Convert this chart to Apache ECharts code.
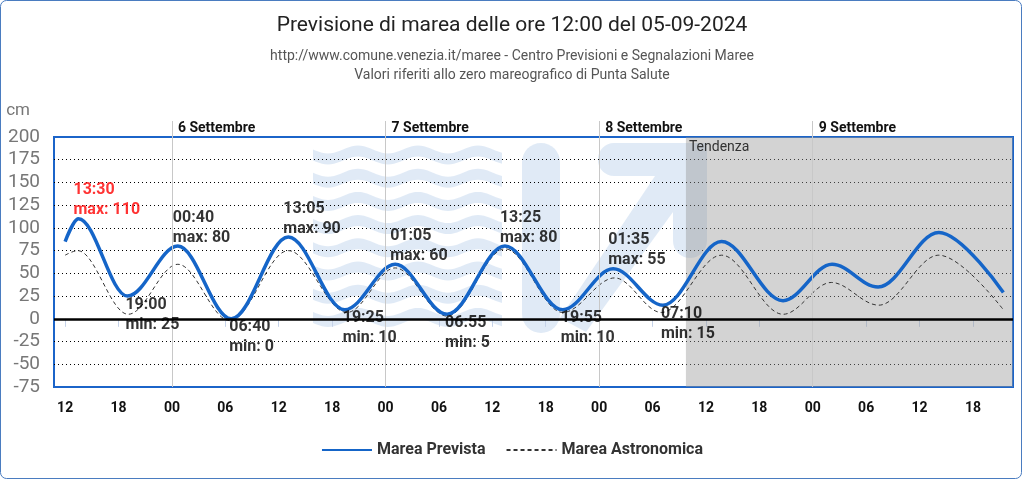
<!DOCTYPE html>
<html>
<head>
<meta charset="utf-8">
<title>Previsione di marea</title>
<script src="https://cdn.jsdelivr.net/npm/echarts@6/dist/echarts.min.js"></script>
<style>
  html, body { margin: 0; padding: 0; background: #fff; }
  #chart { width: 1024px; height: 480px; }
</style>
</head>
<body>
<div id="chart"></div>
<script>
// giorno ore:minuti (settembre 2024)
const previstaOre = ['05 12:00', '05 13:30', '05 19:00', '06 00:40', '06 06:40', '06 13:05', '06 19:25',
  '07 01:05', '07 06:55', '07 13:25', '07 19:55', '08 01:35', '08 07:10', '08 13:45', '08 20:40',
  '09 02:10', '09 07:20', '09 14:10', '09 21:25']
const previstaCm = [85, 110, 25, 80, 0, 90, 10, 60, 5, 80, 10, 55, 15, 85, 20, 60, 35, 95, 29]

const astronomicaOre = ['05 12:00', '05 13:25', '05 19:05', '06 00:40', '06 06:30', '06 13:05', '06 19:40',
  '07 01:05', '07 06:55', '07 13:25', '07 19:55', '08 01:45', '08 07:00', '08 13:45', '08 20:40',
  '09 02:05', '09 07:25', '09 14:10', '09 21:25']
const astronomicaCm = [70, 75, 5, 60, -2, 75, 7, 56, 3, 77, 7, 45, 7, 70, 5, 40, 15, 70, 10]

// massimi e minimi segnalati
const estremiOre = ['05 13:30', '05 19:00', '06 00:40', '06 06:40', '06 13:05', '06 19:25',
  '07 01:05', '07 06:55', '07 13:25', '07 19:55', '08 01:35', '08 07:10']
const estremiCm = [110, 25, 80, 0, 90, 10, 60, 5, 80, 10, 55, 15]
const estremiTipo = ['max', 'min', 'max', 'min', 'max', 'min', 'max', 'min', 'max', 'min', 'max', 'min']

const tickOre = [12, 18, 24, 30, 36, 42, 48, 54, 60, 66, 72, 78, 84, 90, 96, 102, 108, 114]
const giorniOre = [24, 48, 72, 96]
const giorniLabel = ['6 Settembre', '7 Settembre', '8 Settembre', '9 Settembre']
const tendenzaDa = '08 09:45'

const xMin = 10.75
const xMax = 118.5

function ore (s) {
  const d = +s.slice(0, 2)
  const hh = +s.slice(3, 5)
  const mm = +s.slice(6, 8)
  return (d - 5) * 24 + hh + mm / 60
}
function pad (n) {
  return (n < 10 ? '0' : '') + n
}

const font = 'Roboto, "Noto Sans", sans-serif'
const logoColor = 'rgba(70,130,200,0.17)'

// onde del logo sullo sfondo
function onda (yc) {
  const pts = []
  for (let x = 313; x <= 502; x += 3) {
    pts.push([x, yc - 5.5 + 4 * Math.sin((x - 313) / 60 * 2 * Math.PI)])
  }
  for (let x = 502; x >= 313; x -= 3) {
    pts.push([x, yc + 5.5 + 4 * Math.sin((x - 313) / 60 * 2 * Math.PI)])
  }
  return pts
}
const logo = []
for (let k = 0; k < 8; k++) {
  logo.push({ type: 'polygon', silent: true, z: -10, shape: { points: onda(155 + 23.2 * k) }, style: { fill: logoColor } })
}
logo.push({ type: 'rect', silent: true, z: -10, shape: { x: 522, y: 143, width: 38, height: 190, r: 19 }, style: { fill: logoColor } })
logo.push({ type: 'rect', silent: true, z: -10, shape: { x: 598, y: 143, width: 109, height: 33, r: [16, 0, 0, 16] }, style: { fill: logoColor } })
logo.push({ type: 'rect', silent: true, z: -10, shape: { x: 673, y: 176, width: 34, height: 82, r: [0, 0, 17, 17] }, style: { fill: logoColor } })
logo.push({ type: 'polygon', silent: true, z: -10, shape: { points: [[560, 318], [586, 332], [673, 212], [673, 176], [655, 176]] }, style: { fill: logoColor } })

const chart = echarts.init(document.getElementById('chart'))

const previsteData = previstaOre.map((s, i) => [ore(s), previstaCm[i]])
const astronomicaData = astronomicaOre.map((s, i) => [ore(s), astronomicaCm[i]])
const estremiData = estremiOre.map((s, i) => {
  const isMax = estremiTipo[i] === 'max'
  return {
    value: [ore(s), estremiCm[i]],
    label: {
      formatter: s.slice(3) + '\n' + estremiTipo[i] + ': ' + estremiCm[i],
      position: isMax ? 'top' : 'bottom',
      distance: 0,
      offset: isMax ? [-5, 2] : [-2, -2],
      color: estremiCm[i] >= 110 ? '#ff0000' : '#000'
    }
  }
})

chart.setOption({
  animation: false,
  textStyle: { fontFamily: font },
  title: {
    left: 'center',
    top: 8,
    text: 'Previsione di marea delle ore 12:00 del 05-09-2024',
    subtext: 'http://www.comune.venezia.it/maree - Centro Previsioni e Segnalazioni Maree\nValori riferiti allo zero mareografico di Punta Salute',
    itemGap: 8,
    textStyle: { fontFamily: font, fontSize: 21, fontWeight: 'normal', color: '#222', lineHeight: 26 },
    subtextStyle: { fontFamily: font, fontSize: 14, color: '#555', lineHeight: 19, align: 'center' }
  },
  legend: {
    top: 437,
    left: 'center',
    itemWidth: 50,
    itemHeight: 14,
    itemGap: 20,
    data: ['Marea Prevista', 'Marea Astronomica'],
    itemStyle: { opacity: 0 },
    textStyle: { fontFamily: font, fontSize: 16, fontWeight: 'bold', color: '#333' }
  },
  graphic: {
    elements: logo.concat([{
      type: 'rect',
      silent: true,
      shape: { x: 0.5, y: 0.5, width: 1021, height: 478, r: 6 },
      style: { fill: 'none', stroke: '#4a7cc0', lineWidth: 1 }
    }])
  },
  grid: {
    left: 54,
    right: 11,
    top: 137,
    bottom: 93,
    show: true,
    borderColor: '#1b64c9',
    borderWidth: 2,
    backgroundColor: 'transparent'
  },
  xAxis: [
    {
      type: 'value',
      min: xMin,
      max: xMax,
      position: 'bottom',
      axisLine: { show: false },
      splitLine: { show: false },
      axisTick: { show: true, customValues: tickOre, length: 8, lineStyle: { color: '#c5d2e8' } },
      axisLabel: {
        customValues: tickOre,
        margin: 14,
        fontFamily: font,
        fontSize: 14,
        fontWeight: 'bold',
        color: '#111',
        formatter: v => pad(Math.round(v) % 24)
      }
    },
    {
      type: 'value',
      min: xMin,
      max: xMax,
      position: 'top',
      axisLine: { show: false },
      splitLine: { show: false },
      axisTick: { show: true, customValues: giorniOre, length: 16, lineStyle: { color: '#c8c8c8' } },
      axisLabel: {
        customValues: giorniOre,
        margin: 2,
        align: 'left',
        padding: [0, 0, 0, 6],
        fontFamily: font,
        fontSize: 14,
        fontWeight: 'bold',
        color: '#111',
        formatter: v => giorniLabel[giorniOre.indexOf(Math.round(v))]
      }
    }
  ],
  yAxis: {
    type: 'value',
    min: -75,
    max: 200,
    interval: 25,
    name: 'cm',
    nameGap: 18,
    nameTextStyle: { color: '#777', fontSize: 17, fontFamily: font, align: 'right', padding: [0, 24, 0, 0] },
    axisLine: { show: false },
    axisTick: { show: false },
    axisLabel: { color: '#777', fontSize: 19, margin: 14, fontFamily: font },
    splitLine: {
      show: true,
      lineStyle: {
        type: [1, 3],
        width: 1,
        color: ['rgba(0,0,0,0)', '#000', '#000', '#000', '#000', '#000', '#000', '#000', '#000', '#000', '#000', 'rgba(0,0,0,0)']
      }
    }
  },
  series: [
    {
      name: 'Marea Astronomica',
      type: 'line',
      data: astronomicaData,
      smooth: 0.35,
      smoothMonotone: 'x',
      symbol: 'none',
      z: 3,
      itemStyle: { color: '#333' },
      lineStyle: { color: '#333', width: 1, type: [4, 3] },
      markArea: {
        silent: true,
        itemStyle: { color: 'rgba(150,150,150,0.42)' },
        label: { show: true, position: 'insideTopLeft', distance: 3, color: '#333', fontSize: 14, fontFamily: font },
        data: [[{ name: 'Tendenza', xAxis: ore(tendenzaDa) }, { xAxis: xMax }]]
      },
      markLine: {
        silent: true,
        symbol: 'none',
        label: { show: false },
        data: giorniOre.map(g => ({ xAxis: g, lineStyle: { color: '#c8c8c8', width: 1, type: 'solid' } }))
          .concat([{ yAxis: 0, lineStyle: { color: '#000', width: 2.5, type: 'solid' } }])
      }
    },
    {
      name: 'Marea Prevista',
      type: 'line',
      data: previsteData,
      smooth: 0.35,
      smoothMonotone: 'x',
      symbol: 'none',
      z: 4,
      itemStyle: { color: '#1565c8' },
      lineStyle: { color: '#1565c8', width: 3.5 }
    },
    {
      name: 'estremi',
      type: 'scatter',
      data: estremiData,
      symbolSize: 1,
      z: 5,
      itemStyle: { color: 'rgba(0,0,0,0)' },
      label: {
        show: true,
        align: 'left',
        fontFamily: font,
        fontSize: 16,
        fontWeight: 'bold',
        lineHeight: 20,
        textBorderWidth: 0
      }
    }
  ]
})
</script>
</body>
</html>
